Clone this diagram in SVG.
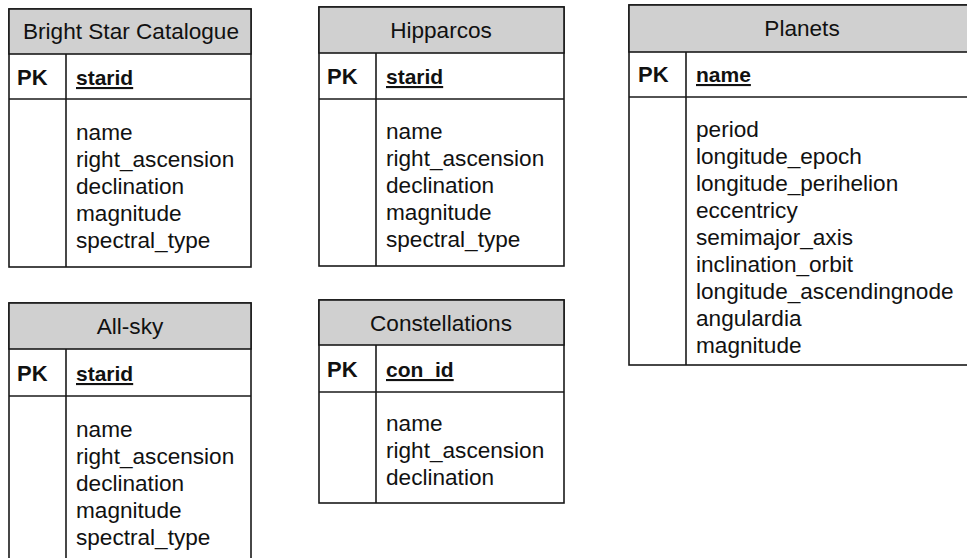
<svg xmlns="http://www.w3.org/2000/svg" width="967" height="558" viewBox="0 0 967 558">
<style>
.box{fill:#ffffff;stroke:#1a1a1a;stroke-width:1.6}
.hdr{fill:#d0d0d0;stroke:#1a1a1a;stroke-width:1.6}
.ln{stroke:#1a1a1a;stroke-width:1.6;fill:none}
text{font-family:"Liberation Sans",Arial,sans-serif;font-size:22.6px;fill:#111}
.title{text-anchor:middle}
.pk{font-weight:bold;font-size:22px}
.key{font-weight:bold;font-size:21px;text-decoration:underline}
</style>
<rect width="967" height="558" fill="#ffffff"/>
<g id="bright-star-catalogue">
<rect class="box" x="9" y="9" width="242" height="258"/>
<rect class="hdr" x="9" y="9" width="242" height="45"/>
<line class="ln" x1="9" y1="99" x2="251" y2="99"/>
<line class="ln" x1="66" y1="54" x2="66" y2="267"/>
<text class="title" x="131" y="39">Bright Star Catalogue</text>
<text class="pk" x="17" y="85">PK</text>
<text class="key" x="76" y="85">starid</text>
<text x="76" y="140">name</text>
<text x="76" y="167">right_ascension</text>
<text x="76" y="194">declination</text>
<text x="76" y="221">magnitude</text>
<text x="76" y="248">spectral_type</text>
</g>
<g id="hipparcos">
<rect class="box" x="319" y="7" width="245" height="259"/>
<rect class="hdr" x="319" y="7" width="245" height="46"/>
<line class="ln" x1="319" y1="99" x2="564" y2="99"/>
<line class="ln" x1="376" y1="53" x2="376" y2="266"/>
<text class="title" x="441" y="38">Hipparcos</text>
<text class="pk" x="327" y="84">PK</text>
<text class="key" x="386" y="84">starid</text>
<text x="386" y="139">name</text>
<text x="386" y="166">right_ascension</text>
<text x="386" y="193">declination</text>
<text x="386" y="220">magnitude</text>
<text x="386" y="247">spectral_type</text>
</g>
<g id="planets">
<rect class="box" x="629" y="5" width="346" height="360"/>
<rect class="hdr" x="629" y="5" width="346" height="47"/>
<line class="ln" x1="629" y1="97" x2="975" y2="97"/>
<line class="ln" x1="686" y1="52" x2="686" y2="365"/>
<text class="title" x="802" y="36">Planets</text>
<text class="pk" x="638" y="82">PK</text>
<text class="key" x="696" y="82">name</text>
<text x="696" y="137">period</text>
<text x="696" y="164">longitude_epoch</text>
<text x="696" y="191">longitude_perihelion</text>
<text x="696" y="218">eccentricy</text>
<text x="696" y="245">semimajor_axis</text>
<text x="696" y="272">inclination_orbit</text>
<text x="696" y="299">longitude_ascendingnode</text>
<text x="696" y="326">angulardia</text>
<text x="696" y="353">magnitude</text>
</g>
<g id="all-sky">
<rect class="box" x="9" y="303" width="242" height="270"/>
<rect class="hdr" x="9" y="303" width="242" height="46"/>
<line class="ln" x1="9" y1="396" x2="251" y2="396"/>
<line class="ln" x1="66" y1="349" x2="66" y2="573"/>
<text class="title" x="130" y="334">All-sky</text>
<text class="pk" x="17" y="381">PK</text>
<text class="key" x="76" y="381">starid</text>
<text x="76" y="437">name</text>
<text x="76" y="464">right_ascension</text>
<text x="76" y="491">declination</text>
<text x="76" y="518">magnitude</text>
<text x="76" y="545">spectral_type</text>
</g>
<g id="constellations">
<rect class="box" x="319" y="300" width="245" height="203"/>
<rect class="hdr" x="319" y="300" width="245" height="45"/>
<line class="ln" x1="319" y1="392" x2="564" y2="392"/>
<line class="ln" x1="376" y1="345" x2="376" y2="503"/>
<text class="title" x="441" y="331">Constellations</text>
<text class="pk" x="327" y="377">PK</text>
<text class="key" x="386" y="377">con_id</text>
<text x="386" y="431">name</text>
<text x="386" y="458">right_ascension</text>
<text x="386" y="485">declination</text>
</g>
<g id="connectors"></g>
</svg>
